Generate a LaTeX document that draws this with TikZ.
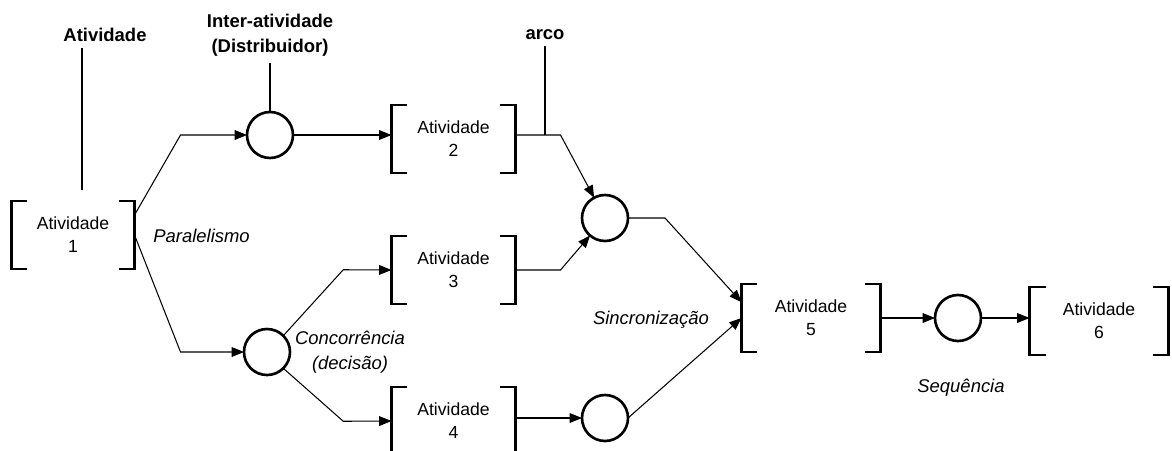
\documentclass[tikz,border=0pt]{standalone}
\usepackage{fontspec}
\setmainfont{Liberation Sans}
\usetikzlibrary{arrows.meta}

\begin{document}
\begin{tikzpicture}[x=0.02cm,y=-0.02cm,line width=0.6pt,
    ativ/.style={minimum height=1.34cm,inner sep=0pt,align=center,font=\fontsize{10}{13}\selectfont},
    conn/.style={circle,draw,line width=1.5pt,minimum size=0.92cm,inner sep=0pt,outer sep=0pt},
    seta/.style={-{Triangle[length=7pt,width=5.5pt]}},
    rotulo/.style={font=\fontsize{10.5}{14.5}\selectfont\bfseries,align=center},
    obs/.style={font=\fontsize{10.5}{14}\selectfont\itshape,align=center}]
  \useasboundingbox (0,0) rectangle (1172,450);

  % atividades entre colchetes
  \node[ativ,minimum width=2.44cm] (a1) at (73,235) {Atividade\\1};
  \node[ativ,minimum width=2.46cm] (a2) at (453.5,139) {Atividade\\2};
  \node[ativ,minimum width=2.46cm] (a3) at (453.5,270) {Atividade\\3};
  \node[ativ,minimum width=2.46cm] (a4) at (453.5,421) {Atividade\\4};
  \node[ativ,minimum width=2.76cm] (a5) at (811,318) {Atividade\\5};
  \node[ativ,minimum width=2.76cm] (a6) at (1099,321) {Atividade\\6};
  \foreach \a in {a1,a2,a3,a4,a5,a6}
    \draw[line width=1.3pt] (\a.north west) ++(16,0) -| (\a.south west) -- ++(16,0)
      (\a.north east) ++(-16,0) -| (\a.south east) -- ++(-16,0);

  % inter-atividades
  \node[conn] (d1) at (270,135) {};
  \node[conn] (d2) at (267,352) {};
  \node[conn] (s1) at (605,218) {};
  \node[conn] (s2) at (605,418) {};
  \node[conn] (q1) at (958,318) {};

  \node[rotulo] (lativ) at (105,35) {Atividade};
  \node[rotulo] (ldist) at (270,35) {Inter-atividade\\(Distribuidor)};
  \node[rotulo] (larco) at (545,35) {arco};
  \coordinate (p1) at (82,190);
  \draw (lativ.south -| p1) -- (p1);
  \draw (ldist) -- (d1);
  \draw (larco) -- (larco |- d1);

  \draw[seta] (a1.east) ++(0,-20) -- ++(46,-80) -- (d1);
  \draw[seta] (a1.east) -- ++(46,117) -- (d2);
  \draw[seta] (d1) -- (a2.west |- d1);
  \draw[seta] (d2.north east) -- ++(60,-66) -- (a3.west);
  \draw[seta] (d2.south east) -- ++(60,53) -- (a4.west);
  \draw[seta] (a2.east |- d1) -- ++(45,0) -- (s1);
  \draw[seta] (a3.east) -- ++(45,0) -- (s1);
  \draw[seta] (a4.east |- s2) -- (s2);
  \draw[seta] (s1.east) -- ++(37,0) -- ([yshift=9pt]a5.west);
  \draw[seta] (s2.east) -- (a5.west);
  \draw[seta] (a5.east) -- (q1);
  \draw[seta] (q1) -- (a6.west |- q1);

  \node[obs,anchor=west] (lpar) at (147,236) {Paralelismo};
  \node[obs] (lconc) at (350,352) {Concorrência\\(decisão)};
  \node[obs] (lsinc) at (651,320) {Sincronização};
  \node[obs] (lseq) at (961,388) {Sequência};
\end{tikzpicture}
\end{document}
